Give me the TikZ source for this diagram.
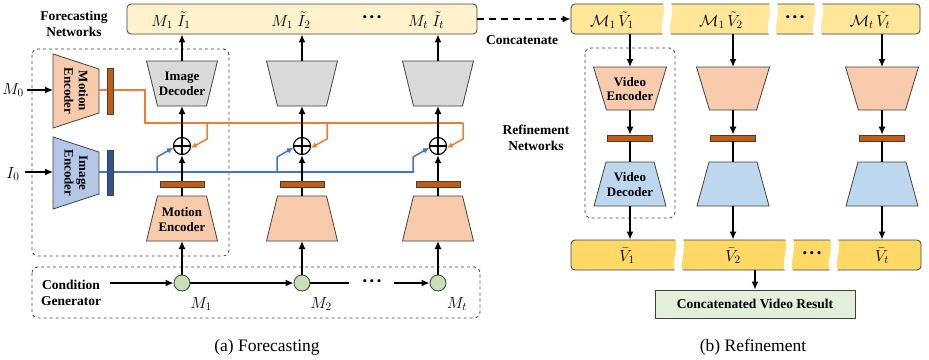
\documentclass[tikz,border=0pt]{standalone}
\usepackage{fontspec}
\setmainfont{Liberation Serif}
\usetikzlibrary{arrows.meta}
\definecolor{yelA}{HTML}{FFF2CC}
\definecolor{yelB}{HTML}{FFE699}
\definecolor{yelC}{HTML}{FFD966}
\definecolor{grayD}{HTML}{D9D9D9}
\definecolor{orgE}{HTML}{F8CBAD}
\definecolor{bluE}{HTML}{B4C7E7}
\definecolor{bluD}{HTML}{BDD7EE}
\definecolor{brownB}{HTML}{C55A11}
\definecolor{navyB}{HTML}{2F5597}
\definecolor{orgL}{HTML}{ED7D31}
\definecolor{bluL}{HTML}{4472C4}
\definecolor{grnC}{HTML}{C5E0B4}
\definecolor{grnB}{HTML}{E2EFDA}
\definecolor{edge}{HTML}{404040}
\newcommand\trapz[6]{\filldraw[#1] ({#2-#5},#3) -- ({#2+#5},#3) -- ({#2+#6},#4) -- ({#2-#6},#4) -- cycle;}
\newcommand\brk[3]{\fill[white] ({#1-4},{#2-1.5}) .. controls ({#1},{#2+9}) and ({#1-8},{#3-9}) .. ({#1-4},{#3+1.5}) -- ({#1+4},{#3+1.5}) .. controls ({#1},{#3-9}) and ({#1+8},{#2+9}) .. ({#1+4},{#2-1.5}) -- cycle;}
\newcommand\tdots{\textbullet\hspace{2.5pt}\textbullet\hspace{2.5pt}\textbullet}
\begin{document}
\begin{tikzpicture}[x=1pt,y=-1pt,
  arr/.style={line width=1.5pt,-{Latex[length=8pt,width=7pt]}},
  ln/.style={line width=1.5pt},
  carr/.style={line width=1.5pt,-{Latex[length=6pt,width=6pt]}},
  shp/.style={draw=edge,line width=0.8pt},
  barn/.style={draw=edge,line width=0.6pt,fill=brownB,inner sep=0pt},
  dbox/.style={draw=black!75,dashed,line width=0.8pt,rounded corners=6pt},
  lbl/.style={font=\bfseries\fontsize{13.5}{16}\selectfont,align=center},
  tl/.style={font=\bfseries\fontsize{13}{14.5}\selectfont,align=center,inner sep=0pt},
  mth/.style={font=\fontsize{14.4}{17}\selectfont,inner sep=0pt,scale=1.12},
  ybar/.style={draw=edge,line width=0.8pt,rounded corners=4pt,inner sep=0pt,minimum height=30pt},
  dotn/.style={font=\fontsize{13}{15}\selectfont,inner sep=0pt},
  pl/.style={circle,draw=black,line width=1.2pt,minimum size=17pt,inner sep=0pt},
  gc/.style={circle,draw=edge,fill=grnC,line width=0.8pt,minimum size=16pt,inner sep=0pt}]
\useasboundingbox (0,0) rectangle (929,359);

% ---------------- (a) Forecasting ----------------
\draw[dbox] (32,49) rectangle (229,256);
\draw[dbox] (32,267) rectangle (480,318);

\node[ybar,fill=yelA,minimum width=350pt] (fbar) at (302,19) {};
\node[mth] (t11) at (171,20) {$M_1\;\tilde I_1$};
\node[mth] (t12) at (291,20) {$M_1\;\tilde I_2$};
\node[dotn] (t1d) at (372,19) {\tdots};
\node[mth] (t1t) at (426,20) {$M_t\;\tilde I_t$};

\node[lbl] (fn) at (74,24) {Forecasting\\Networks};
\node[lbl] (cg) at (71,293) {Condition\\Generator};

% left encoders
\filldraw[shp,fill=orgE] (53,54) -- (99,69) -- (99,113) -- (53,128) -- cycle;
\filldraw[shp,fill=bluE] (53,137) -- (99,152) -- (99,194) -- (53,209) -- cycle;
\node[tl,rotate=-90] (meL) at (76,91) {Motion\\Encoder};
\node[tl,rotate=-90] (ieL) at (76,173) {Image\\Encoder};
\coordinate (meIn) at (53,90);
\coordinate (ieIn) at (53,172);
\node[mth] (m0) at (13,90) {$M_0$};
\node[mth] (i0) at (13,174) {$I_0$};
\draw[arr] (m0.east) ++(3,0) -- (meIn);
\draw[arr] (i0.east) ++(5,-2) -- (ieIn);

% colored feature lines
\coordinate (oL) at (99,90);
\coordinate (bL) at (99,172);
\draw[orgL,line width=1.5pt] (oL) -- (145,90) |- (463,123);
\draw[bluL,line width=1.5pt] (bL) -- (414,172);
\node[barn,minimum width=6pt,minimum height=46pt] (mbarL) at (110,91) {};
\node[barn,fill=navyB,minimum width=6pt,minimum height=45pt] (ibarL) at (110,172.5) {};

\foreach \k/\cx/\lab in {1/182/1,2/302/2,3/438/t}{
  \trapz{shp,fill=grayD}{\cx}{61}{106}{35.5}{24.5}
  \coordinate (dt\k) at (\cx,61);
  \coordinate (db\k) at (\cx,106);
  \trapz{shp,fill=orgE}{\cx}{196}{241}{24.5}{35.5}
  \coordinate (met\k) at (\cx,196);
  \coordinate (meb\k) at (\cx,241);
  \node[barn,minimum width=44pt,minimum height=6pt] (mb\k) at (\cx,184.5) {};
  \node[pl] (p\k) at (\cx,146) {};
  \draw[line width=1.2pt] (p\k.north) -- (p\k.south) (p\k.west) -- (p\k.east);
  \node[gc] (c\k) at (\cx,283) {};
  \node[mth] (ml\k) at ({\cx+19},304) {$M_{\lab}$};
  \draw[orgL,carr] ({\cx+25},123) -- ({\cx+25},139) -- (p\k.-12);
  \draw[bluL,carr] ({\cx-25},172) -- ({\cx-25},157) -- (p\k.192);
  \draw[arr] (c\k.north) -- (meb\k);
  \draw[ln] (met\k) -- (mb\k.south);
  \draw[arr] (mb\k.north) -- (p\k.south);
  \draw[arr] (p\k.north) -- (db\k);
  \draw[arr] (dt\k) -- (fbar.south -| dt\k);
}
\node[tl] (idl) at (182,84) {Image\\Decoder};
\node[tl] (mel) at (182,219.5) {Motion\\Encoder};

% condition chain
\coordinate (cgIn) at (110,283);
\coordinate (cd1) at (349,283);
\coordinate (cd2) at (394,283);
\node[dotn] (cdots) at (372,283) {\tdots};
\draw[arr] (cgIn) -- (c1.west);
\draw[arr] (c1.east) -- (c2.west);
\draw[ln] (c2.east) -- (cd1);
\draw[arr] (cd2) -- (c3.west);

% ---------------- (b) Refinement ----------------
\draw[dbox] (585,48) rectangle (675,218);
\node[ybar,fill=yelB,minimum width=349pt] (rbar) at (745.5,19) {};
\brk{667}{4}{34}
\brk{773}{4}{34}
\brk{818}{4}{34}
\node[mth] (r1) at (612,20) {$\mathcal{M}_1\,\tilde V_1$};
\node[mth] (r2) at (721,20) {$\mathcal{M}_1\,\tilde V_2$};
\node[dotn] (rd) at (795,19) {\tdots};
\node[mth] (rt) at (870,20) {$\mathcal{M}_t\,\tilde V_t$};

\node[ybar,fill=yelC,minimum width=350pt] (vbar) at (746,255) {};
\brk{679}{240}{270}
\brk{789}{240}{270}
\brk{834}{240}{270}
\node[mth] (v1) at (627,256) {$\bar V_1$};
\node[mth] (v2) at (733,256) {$\bar V_2$};
\node[dotn] (vd) at (812,255) {\tdots};
\node[mth] (vt) at (882,256) {$\bar V_t$};

\draw[line width=1.5pt,dash pattern=on 7pt off 5pt,-{Latex[length=8pt,width=7pt]}] (fbar.east) -- (rbar.west);
\node[lbl] (cc) at (522,40) {Concatenate};
\node[lbl] (rn) at (536,138) {Refinement\\Networks};

\foreach \k/\cx in {1/630,2/733,3/882}{
  \trapz{shp,fill=orgE}{\cx}{67}{110}{36.5}{23.5}
  \coordinate (vet\k) at (\cx,67);
  \coordinate (veb\k) at (\cx,110);
  \node[barn,minimum width=45pt,minimum height=6pt] (rb\k) at (\cx,138) {};
  \trapz{shp,fill=bluD}{\cx}{162}{206}{24}{36}
  \coordinate (vdt\k) at (\cx,162);
  \coordinate (vdb\k) at (\cx,206);
  \draw[arr] (rbar.south -| vet\k) -- (vet\k);
  \draw[arr] (veb\k) -- (rb\k.north);
  \draw[ln] (rb\k.south) -- (vdt\k);
  \draw[arr] (vdb\k) -- (vbar.north -| vdb\k);
}
\node[tl] (vel) at (630,89) {Video\\Encoder};
\node[tl] (vdl) at (630,184.5) {Video\\Decoder};

\node[draw=edge,line width=0.8pt,fill=grnB,minimum width=200pt,minimum height=28pt,inner sep=0pt,font=\bfseries\fontsize{13.5}{16}\selectfont] (res) at (755,304) {Concatenated Video Result};
\draw[arr] (vbar.south -| res.north) -- (res.north);

% captions
\node[font=\fontsize{17.5}{20}\selectfont] (capa) at (267,347) {(a) Forecasting};
\node[font=\fontsize{17.5}{20}\selectfont] (capb) at (753,347) {(b) Refinement};
\end{tikzpicture}
\end{document}
